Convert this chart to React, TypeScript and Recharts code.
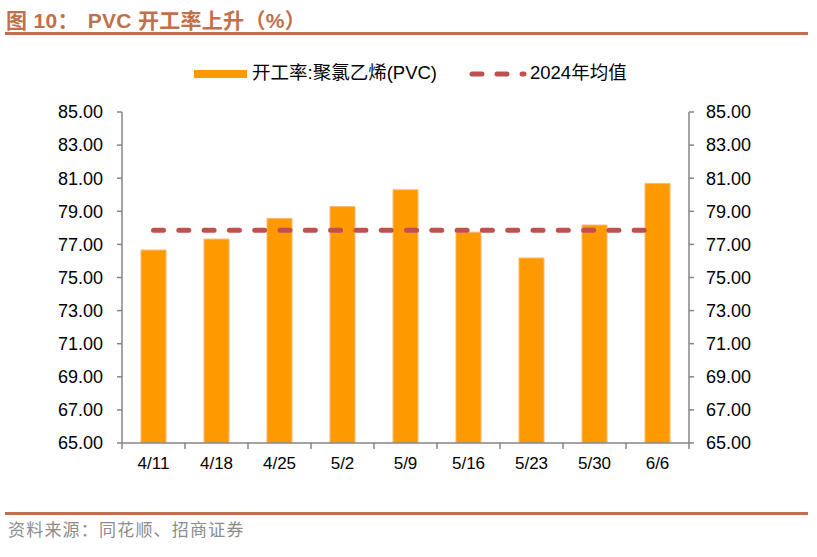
import React from "react";
import { ComposedChart, Bar, Line, XAxis, YAxis } from "recharts";

const categories = ["4/11", "4/18", "4/25", "5/2", "5/9", "5/16", "5/23", "5/30", "6/6"];
const pvcRate = [76.66, 77.32, 78.57, 79.29, 80.3, 77.74, 76.18, 78.17, 80.68];
const avg2024 = [77.85, 77.85, 77.85, 77.85, 77.85, 77.85, 77.85, 77.85, 77.85];
const yTicks = [65, 67, 69, 71, 73, 75, 77, 79, 81, 83, 85];

const data = categories.map((c, i) => ({ name: c, pvc: pvcRate[i], avg: avg2024[i] }));

const AXIS = "#868686";
const FONT = "Arial, 'Liberation Sans', 'Noto Sans CJK SC', sans-serif";

const XTick = (props: any) => {
  const { x, y, payload, index, visibleTicksCount } = props;
  const half = payload && payload.offset ? payload.offset : 31.5;
  const isLast = index === (visibleTicksCount ?? categories.length) - 1;
  return (
    <g>
      <line x1={x - half} y1={y - 8} x2={x - half} y2={y - 2} stroke={AXIS} strokeWidth={1.5} />
      {isLast && <line x1={x + half} y1={y - 8} x2={x + half} y2={y - 2} stroke={AXIS} strokeWidth={1.5} />}
      <text x={x} y={y + 18} textAnchor="middle" fontSize={17} fill="#000" fontFamily={FONT}>
        {payload.value}
      </text>
    </g>
  );
};

export default function App() {
  return (
    <div style={{ position: "absolute", left: 0, top: 0, width: 817, height: 557, background: "#fff", fontFamily: FONT }}>
      <div
        style={{
          position: "absolute",
          left: 6,
          top: 4,
          fontSize: 21,
          fontWeight: "bold",
          color: "#C0704A",
          letterSpacing: 0.3,
          fontFamily: "Arial, 'Liberation Sans', 'Noto Sans CJK SC', sans-serif",
          whiteSpace: "nowrap",
        }}
      >
        图 10：<span style={{ display: "inline-block", width: 9 }} />PVC 开工率上升（%）
      </div>
      <div style={{ position: "absolute", left: 5, top: 32, width: 803, height: 3, background: "#C0704A" }} />
      <div style={{ position: "absolute", left: 5, top: 512, width: 803, height: 3, background: "#C0704A" }} />
      <div
        style={{
          position: "absolute",
          left: 8,
          top: 516,
          fontSize: 17,
          color: "#8C8C8C",
          letterSpacing: 1.2,
          fontFamily: "'Noto Sans CJK SC', sans-serif",
          whiteSpace: "nowrap",
        }}
      >
        资料来源：同花顺、招商证券
      </div>

      {/* Legend */}
      <div style={{ position: "absolute", left: 194, top: 70, width: 53, height: 8, background: "#FF9900" }} />
      <div style={{ position: "absolute", left: 252, top: 62, fontSize: 18.5, color: "#000", whiteSpace: "nowrap", lineHeight: "22px" }}>
        开工率:聚氯乙烯(PVC)
      </div>
      <svg style={{ position: "absolute", left: 466, top: 66 }} width={62} height={16}>
        <line x1={6} y1={8} x2={58} y2={8} stroke="#C0504D" strokeWidth={5} strokeDasharray="10 15" strokeLinecap="round" />
      </svg>
      <div style={{ position: "absolute", left: 530, top: 62, fontSize: 18.5, color: "#000", whiteSpace: "nowrap", lineHeight: "22px" }}>
        2024年均值
      </div>

      <div style={{ position: "absolute", left: 0, top: 0 }}>
        <ComposedChart
          width={817}
          height={557}
          data={data}
          margin={{ top: 112, right: 68, bottom: 84, left: 62 }}
          barSize={25}
        >
          <XAxis
            dataKey="name"
            xAxisId="x"
            stroke={AXIS}
            strokeWidth={1.5}
            tickLine={false}
            tick={<XTick />}
            height={30}
            interval={0}
          />
          <YAxis
            yAxisId="left"
            orientation="left"
            domain={[65, 85]}
            ticks={yTicks}
            interval={0}
            width={60}
            stroke={AXIS}
            strokeWidth={1.5}
            tickSize={5}
            tickMargin={14}
            tickLine={{ stroke: AXIS, strokeWidth: 1.5 }}
            tickFormatter={(v: number) => v.toFixed(2)}
            tick={{ fill: "#000", fontSize: 18, fontFamily: FONT }}
            allowDataOverflow
          />
          <YAxis
            yAxisId="right"
            orientation="right"
            domain={[65, 85]}
            ticks={yTicks}
            interval={0}
            width={60}
            stroke={AXIS}
            strokeWidth={1.5}
            tickSize={5}
            tickMargin={12}
            tickLine={{ stroke: AXIS, strokeWidth: 1.5 }}
            tickFormatter={(v: number) => v.toFixed(2)}
            tick={{ fill: "#000", fontSize: 18, fontFamily: FONT }}
            allowDataOverflow
          />
          <Bar
            dataKey="pvc"
            xAxisId="x"
            yAxisId="left"
            fill="#FF9900"
            stroke="#FFB870"
            strokeWidth={1}
            isAnimationActive={false}
          />
          <Line
            dataKey="avg"
            xAxisId="x"
            yAxisId="left"
            stroke="#C0504D"
            strokeWidth={5}
            strokeDasharray="10 15.3"
            strokeLinecap="round"
            dot={false}
            activeDot={false}
            isAnimationActive={false}
          />
        </ComposedChart>
      </div>
    </div>
  );
}
